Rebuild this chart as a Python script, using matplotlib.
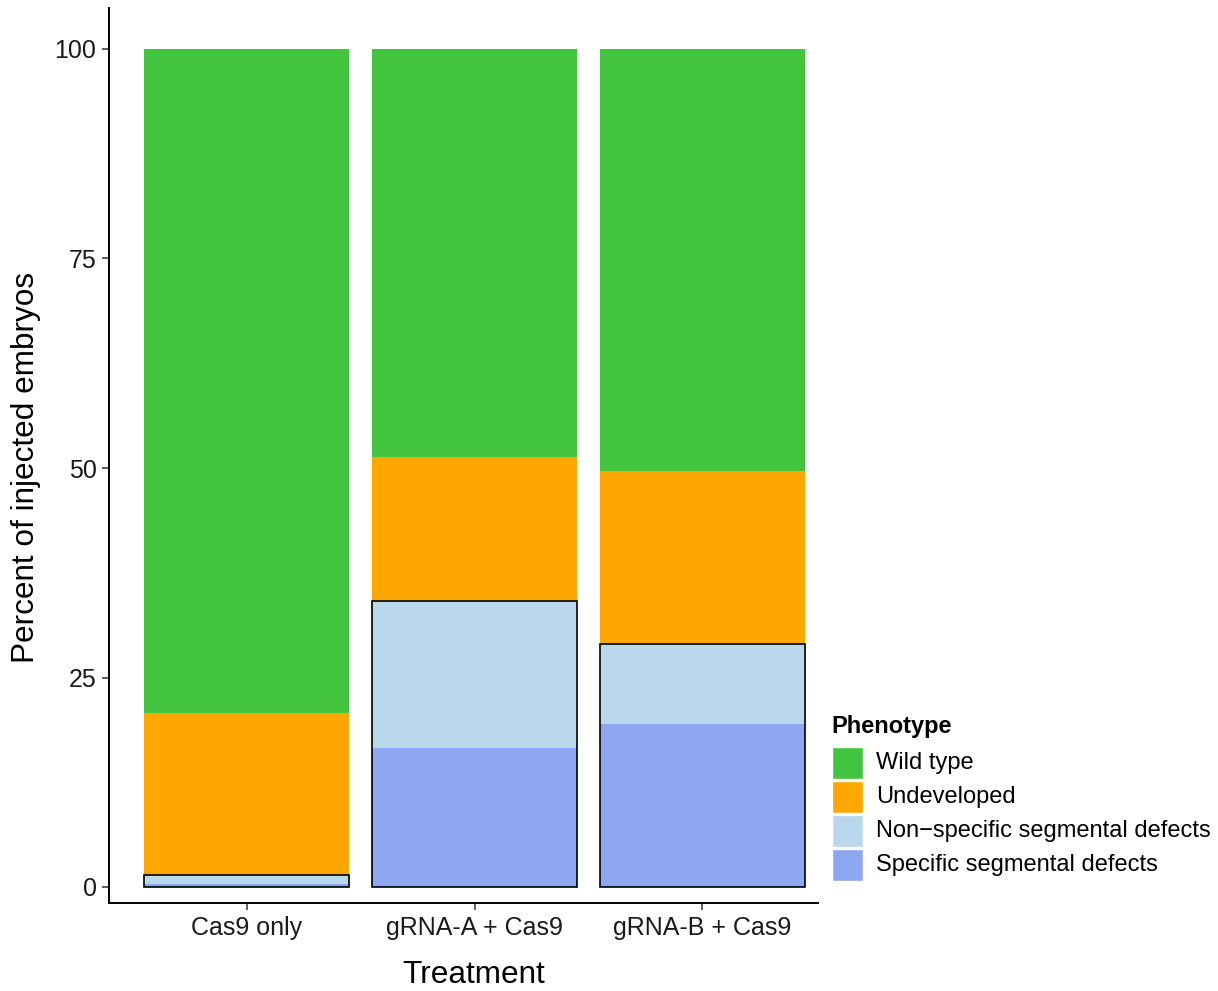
import matplotlib
matplotlib.use("Agg")
import matplotlib.pyplot as plt
from matplotlib.patches import Rectangle
import numpy as np

plt.rcParams['font.family'] = ['Liberation Sans', 'DejaVu Sans']

treatments = ["Cas9 only", "gRNA-A + Cas9", "gRNA-B + Cas9"]
phenotypes = ["Wild type", "Undeveloped", "Non\u2212specific segmental defects", "Specific segmental defects"]
specific = [0.4, 16.6, 19.4]
nonspecific = [1.0, 17.5, 9.6]
undeveloped = [19.4, 17.2, 20.6]
wild_type = [79.2, 48.7, 50.4]
colors = {"Wild type": "#44C541", "Undeveloped": "#FFA701",
          "Non\u2212specific segmental defects": "#B9D8EB",
          "Specific segmental defects": "#8DA7F2"}
yticks = [0, 25, 50, 75, 100]

W, H = 1218, 991
fig = plt.figure(figsize=(12.18, 9.91), dpi=100)
ax = fig.add_axes([109/W, 88/H, (818-109)/W, (903-8)/H])

x = np.arange(1, len(treatments) + 1)
w = 0.9
series = [("Specific segmental defects", specific),
          ("Non\u2212specific segmental defects", nonspecific),
          ("Undeveloped", undeveloped),
          ("Wild type", wild_type)]
bottom = np.zeros(len(x))
for name, vals in series:
    vals = np.array(vals)
    ax.bar(x, vals, width=w, bottom=bottom, color=colors[name], linewidth=0)
    bottom += vals
defects = np.array(specific) + np.array(nonspecific)
ax.bar(x, defects, width=w, bottom=0, facecolor='none', edgecolor='black', linewidth=1.2)

ax.set_xlim(1 - 137.5/228, 3 + 115.5/228)
ax.set_ylim(-(903-887)/8.38, (887-8)/8.38)
ax.set_xticks(x)
ax.set_xticklabels(treatments)
ax.set_yticks(yticks)
ax.set_yticklabels([str(t) for t in yticks])
ax.tick_params(axis='both', labelsize=18, length=5, width=1.1, color='#333333', labelcolor='#1a1a1a', pad=4)
for s in ['top', 'right']:
    ax.spines[s].set_visible(False)
for s in ['left', 'bottom']:
    ax.spines[s].set_linewidth(1.4)
    ax.spines[s].set_color('black')
ax.set_xlabel("Treatment", fontsize=22.7)
ax.set_ylabel("Percent of injected embryos", fontsize=22.7)
ax.xaxis.set_label_coords((474-109)/(818-109), -(975-903)/(903-8), transform=ax.transAxes)
ax.xaxis.label.set_va('center')
ax.yaxis.set_label_coords(-(109-26)/(818-109), (903-467)/(903-8), transform=ax.transAxes)
ax.yaxis.label.set_va('center')

# legend
fig.text(831/W, 1 - 726/H, "Phenotype", fontsize=17, fontweight='bold', va='center', ha='left')
for i, name in enumerate(phenotypes):
    yc = 763 + 34*i
    fig.patches.append(Rectangle((832/W, 1 - (yc+16)/H), 31/W, 32/H, transform=fig.transFigure,
                                 facecolor=colors[name], edgecolor='white', linewidth=1))
    fig.text(876/W, 1 - yc/H, name, fontsize=17, va='center', ha='left')

fig.savefig("out.png", dpi=100)
